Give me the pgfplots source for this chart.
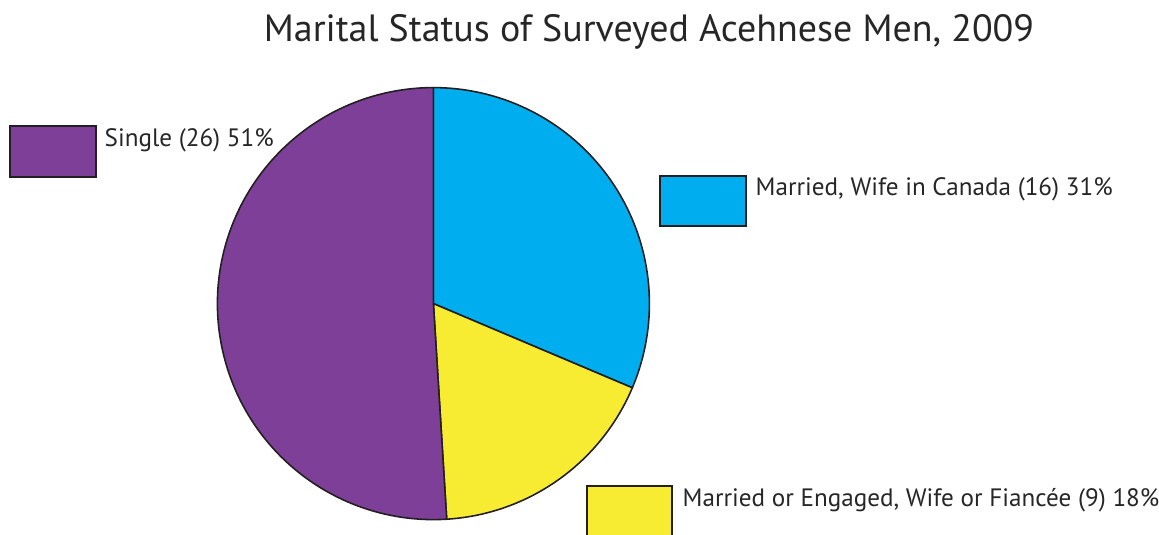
\documentclass[border=0pt]{standalone}
\usepackage{pgfplots}
\pgfplotsset{compat=1.18}
\usepackage{fontspec}
\setmainfont{PT Sans}
\definecolor{cpurple}{HTML}{7E3F98}
\definecolor{cblue}{HTML}{00AEEF}
\definecolor{cyellow}{HTML}{F7EC31}
\definecolor{cedge}{HTML}{231F20}
% data: number of men in each group
\def\nSingle{26}
\def\nCanada{16}
\def\nFiance{9}
\begin{document}
\begin{tikzpicture}
\pgfmathsetmacro{\tot}{\nSingle+\nCanada+\nFiance}
\pgfmathsetmacro{\aA}{90}
\pgfmathsetmacro{\aB}{\aA-360*\nCanada/\tot}
\pgfmathsetmacro{\aC}{\aB-360*\nFiance/\tot}
\pgfmathsetmacro{\aD}{\aC-360*\nSingle/\tot}
\def\cx{433.4}
\def\cy{303.6}
\def\r{216}
\begin{axis}[name=ax,
  width=11.59cm, height=5.34cm, scale only axis,
  xmin=0, xmax=1159, ymin=0, ymax=534, y dir=reverse,
  hide axis, clip=false]
\addplot[fill=cblue, draw=cedge, line width=0.45pt, domain=\aB:\aA, samples=120, variable=\t]
  ({\cx+\r*cos(\t)},{\cy-\r*sin(\t)}) -- (axis cs:\cx,\cy) -- cycle;
\addplot[fill=cyellow, draw=cedge, line width=0.45pt, domain=\aC:\aB, samples=80, variable=\t]
  ({\cx+\r*cos(\t)},{\cy-\r*sin(\t)}) -- (axis cs:\cx,\cy) -- cycle;
\addplot[fill=cpurple, draw=cedge, line width=0.45pt, domain=\aD:\aC, samples=200, variable=\t]
  ({\cx+\r*cos(\t)},{\cy-\r*sin(\t)}) -- (axis cs:\cx,\cy) -- cycle;
% legend boxes
\draw[fill=cpurple, draw=cedge, line width=0.45pt] (axis cs:10,126) rectangle (axis cs:96,177);
\draw[fill=cblue, draw=cedge, line width=0.45pt] (axis cs:660,176) rectangle (axis cs:746,226);
\draw[fill=cyellow, draw=cedge, line width=0.45pt] (axis cs:587,486) rectangle (axis cs:672,550);
% labels
\node[anchor=base west, inner sep=0pt, font=\fontsize{7.15pt}{8pt}\selectfont, text=black!85] at (axis cs:104,147) {Single (26) 51\%};
\node[anchor=base west, inner sep=0pt, font=\fontsize{7.15pt}{8pt}\selectfont, text=black!85] at (axis cs:755,196) {Married, Wife in Canada (16) 31\%};
\node[anchor=base west, inner sep=0pt, font=\fontsize{7.15pt}{8pt}\selectfont, text=black!85] at (axis cs:682,506) {Married or Engaged, Wife or Fianc\'ee (9) 18\%};
% title
\node[anchor=base, inner sep=0pt, font=\fontsize{10.8pt}{13pt}\selectfont, text=black!85] at (axis cs:649,42) {Marital Status of Surveyed Acehnese Men, 2009};
\end{axis}
\pgfresetboundingbox
\path (ax.south west) rectangle (ax.north east);
\end{tikzpicture}
\end{document}
